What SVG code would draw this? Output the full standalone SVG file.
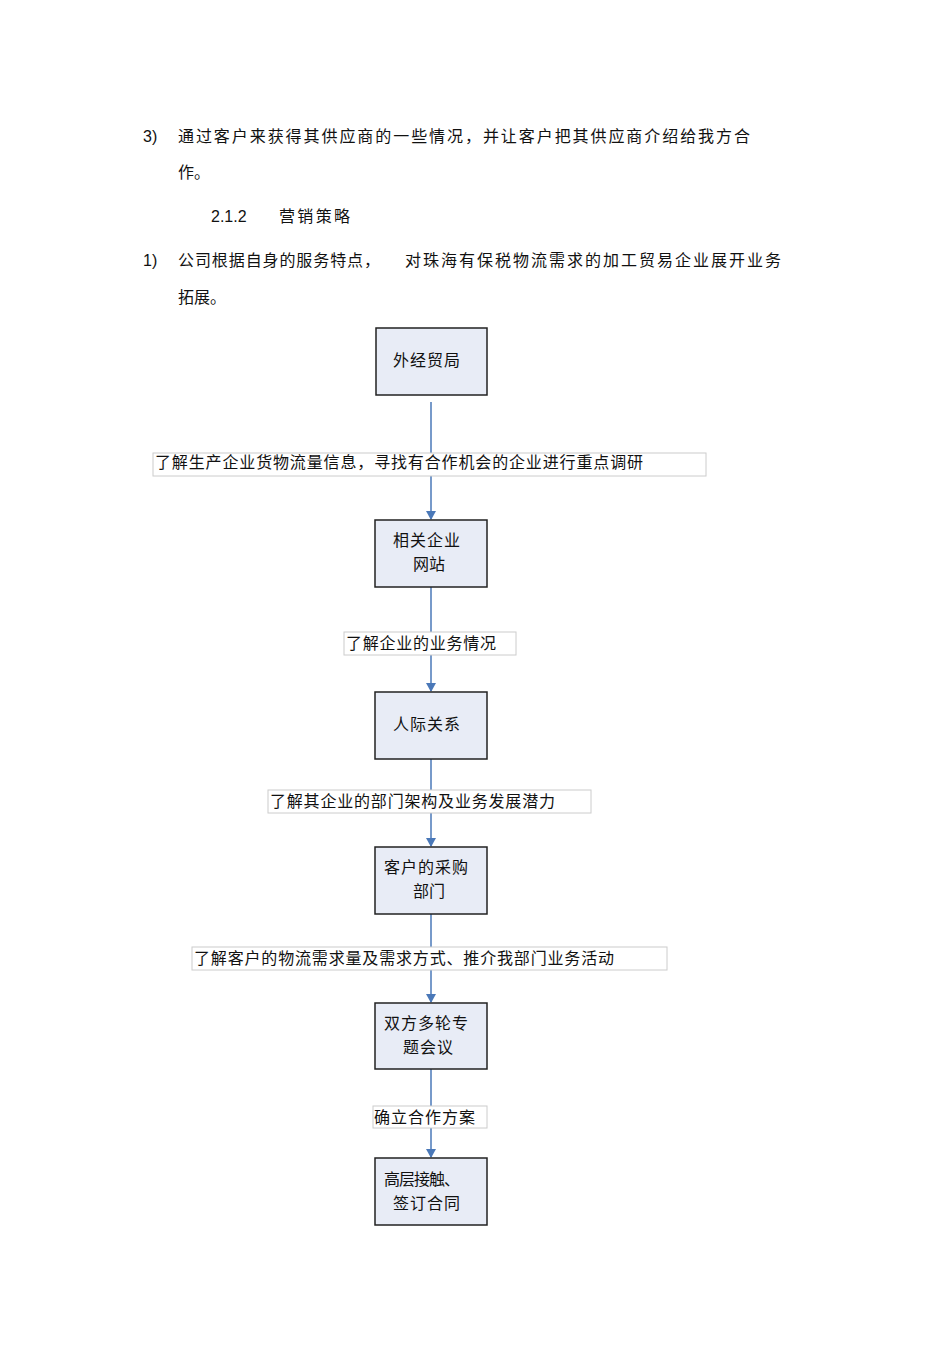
<svg xmlns="http://www.w3.org/2000/svg" width="950" height="1345" viewBox="0 0 950 1345">
<style>
text{font-family:"Liberation Sans","Noto Sans CJK SC",sans-serif;font-size:16px;fill:#111}
.node rect{fill:#e8ecf6;stroke:#222;stroke-width:1.5}
.lbl rect{fill:#fff;stroke:#ccc;stroke-width:1}
.c line{stroke:#4a78b8;stroke-width:1.5}
</style>
<defs><marker id="a" markerWidth="10" markerHeight="10" refX="8" refY="5" orient="auto" markerUnits="userSpaceOnUse"><path d="M0,0 L9,5 L0,10z" fill="#4a78b8"/></marker></defs>
<rect width="950" height="1345" fill="#fff"/>
<text x="143" y="142">3)</text>
<text x="178" y="142" textLength="572">通过客户来获得其供应商的一些情况，并让客户把其供应商介绍给我方合</text>
<text x="178" y="178">作。</text>
<text x="211" y="222">2.1.2</text>
<text x="279" y="222" textLength="71">营销策略</text>
<text x="143" y="266">1)</text>
<text x="178" y="266" textLength="202">公司根据自身的服务特点，</text>
<text x="405" y="266" textLength="376">对珠海有保税物流需求的加工贸易企业展开业务</text>
<text x="178" y="303">拓展。</text>
<g class="c">
<line x1="431" y1="402" x2="431" y2="519" marker-end="url(#a)"/>
<line x1="431" y1="587" x2="431" y2="691" marker-end="url(#a)"/>
<line x1="431" y1="759" x2="431" y2="846" marker-end="url(#a)"/>
<line x1="431" y1="914" x2="431" y2="1002" marker-end="url(#a)"/>
<line x1="431" y1="1069" x2="431" y2="1157" marker-end="url(#a)"/>
</g>
<g class="lbl">
<g id="l1"><rect x="153" y="453" width="553" height="23"/><text x="155" y="468" textLength="488">了解生产企业货物流量信息，寻找有合作机会的企业进行重点调研</text></g>
<g id="l2"><rect x="344" y="632" width="172" height="23"/><text x="346" y="649" textLength="150">了解企业的业务情况</text></g>
<g id="l3"><rect x="268" y="790" width="323" height="23"/><text x="270" y="807" textLength="285">了解其企业的部门架构及业务发展潜力</text></g>
<g id="l4"><rect x="192" y="947" width="475" height="23"/><text x="194" y="964" textLength="420">了解客户的物流需求量及需求方式、推介我部门业务活动</text></g>
<g id="l5"><rect x="373" y="1106" width="114" height="22"/><text x="374" y="1123" textLength="101">确立合作方案</text></g>
</g>
<g id="n1" class="node"><rect x="376" y="328" width="111" height="67"/><text x="393" y="366" textLength="67">外经贸局</text></g>
<g id="n2" class="node"><rect x="375" y="520" width="112" height="67"/><text x="393" y="546" textLength="67">相关企业</text><text x="413" y="570">网站</text></g>
<g id="n3" class="node"><rect x="375" y="692" width="112" height="67"/><text x="393" y="730" textLength="67">人际关系</text></g>
<g id="n4" class="node"><rect x="375" y="847" width="112" height="67"/><text x="384" y="873" textLength="84">客户的采购</text><text x="413" y="897">部门</text></g>
<g id="n5" class="node"><rect x="375" y="1003" width="112" height="66"/><text x="384" y="1029" textLength="84">双方多轮专</text><text x="403" y="1053" textLength="50">题会议</text></g>
<g id="n6" class="node"><rect x="375" y="1158" width="112" height="67"/><text x="384" y="1185" textLength="76">高层接触、</text><text x="393" y="1209" textLength="67">签订合同</text></g>
</svg>
